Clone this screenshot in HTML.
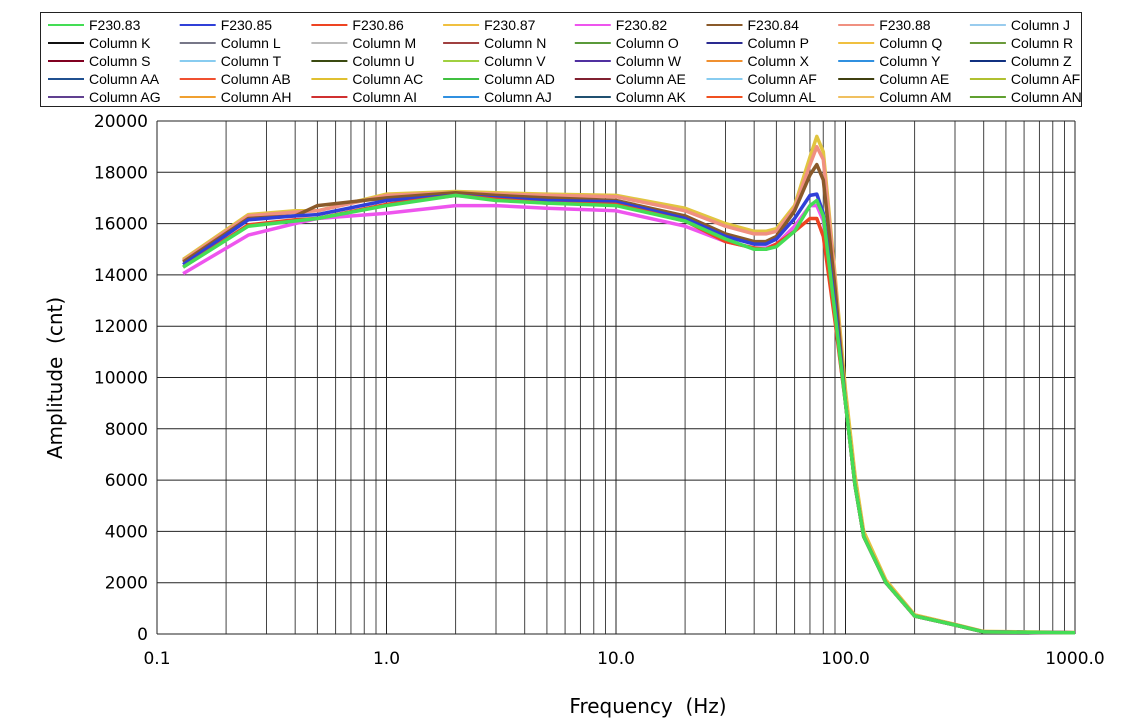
<!DOCTYPE html>
<html><head><meta charset="utf-8"><style>
body{margin:0;background:#fff;}
svg{display:block;font-family:"Liberation Sans",Verdana,sans-serif;}
.v{font-family:"DejaVu Sans",Verdana,sans-serif;}
</style></head><body>
<svg id="s" width="1127" height="726" xmlns="http://www.w3.org/2000/svg"></svg>
<script>
const s=document.getElementById('s');
let h='';
const X=f=>157+229.5*Math.log10(f/0.1), Y=v=>634-v*0.02565;
for(let d=0.1;d<1000;d*=10){for(let k=1;k<10;k++){const x=X(d*k);h+=`<line x1="${x}" y1="121" x2="${x}" y2="634" stroke="${k==1?'#222':'#444'}" stroke-width="1"/>`;}}
h+=`<line x1="${X(1000)}" y1="121" x2="${X(1000)}" y2="634" stroke="#222"/>`;
for(let v=0;v<=20000;v+=2000){const y=Y(v);h+=`<line x1="157" y1="${y}" x2="1075" y2="${y}" stroke="#222"/>`;
h+=`<text class="v" x="148" y="${y+6}" font-size="17" text-anchor="end">${v}</text>`;}
[[0.1,'0.1'],[1,'1.0'],[10,'10.0'],[100,'100.0'],[1000,'1000.0']].forEach(([f,t])=>h+=`<text class="v" x="${X(f)}" y="664" font-size="17" text-anchor="middle">${t}</text>`);
h+=`<text class="v" x="648" y="713" font-size="20" text-anchor="middle" xml:space="preserve">Frequency  (Hz)</text>`;
h+=`<text class="v" transform="translate(62,378) rotate(-90)" font-size="20" text-anchor="middle" xml:space="preserve">Amplitude  (cnt)</text>`;
const F=[0.13,0.25,0.4,0.5,1,2,3,5,10,20,30,40,45,50,60,70,75,80,90,100,110,120,150,200,300,400,1000];
const tail=[9000,5800,3800,2000,700,350,80,50];
const S=[
['#e1c540',[14600,16350,16500,16500,17150,17250,17200,17150,17100,16600,16000,15700,15700,15800,16700,18600,19400,18800,14000,9500,6200,4000,2100,750,380,100,60]],
['#f09080',[14550,16300,16450,16500,17100,17200,17150,17100,17050,16500,15900,15600,15600,15700,16600,18300,19000,18500,13800,...tail]],
['#8a5a2a',[14500,16200,16300,16700,17000,17200,17100,17000,16900,16300,15600,15300,15300,15500,16500,17900,18300,17700,13500,...tail]],
['#ee55ee',[14050,15550,16000,16200,16400,16700,16700,16600,16500,15900,15300,15050,15050,15200,15900,16700,16700,16100,12300,...tail]],
['#3040d8',[14400,16150,16300,16350,16900,17100,17000,16900,16850,16200,15500,15200,15200,15400,16200,17100,17150,16400,12800,...tail]],
['#ee4422',[14300,15950,16150,16200,16750,17100,16950,16800,16750,16100,15300,15050,15000,15200,15700,16200,16200,15500,12200,...tail]],
['#44dd55',[14300,15900,16100,16200,16700,17100,16900,16800,16700,16100,15400,15000,15000,15100,15700,16700,16900,16300,12500,...tail]],
];
S.forEach(([c,d])=>{h+=`<polyline fill="none" stroke="${c}" stroke-width="3.5" stroke-linejoin="round" points="${d.map((v,i)=>X(F[i]).toFixed(1)+','+Y(v).toFixed(1)).join(' ')}"/>`;});
h+=`<line x1="157" y1="121" x2="157" y2="634" stroke="#222"/>`;
h+=`<rect x="40.5" y="12.5" width="1041" height="94" fill="#fff" stroke="#222"/>`;
const L=[['F230.83','#44dd55'],['F230.85','#3040d8'],['F230.86','#ee4422'],['F230.87','#f0c040'],['F230.82','#ee55ee'],['F230.84','#8a5a2a'],['F230.88','#f09080'],['Column J','#99ccee'],
['Column K','#111'],['Column L','#778'],['Column M','#bbb'],['Column N','#a04040'],['Column O','#5a9a3a'],['Column P','#2a2a90'],['Column Q','#f0c040'],['Column R','#6a9a3a'],
['Column S','#800020'],['Column T','#88ccf0'],['Column U','#3a4a10'],['Column V','#a0d040'],['Column W','#5030a0'],['Column X','#f09030'],['Column Y','#3090e0'],['Column Z','#103080'],
['Column AA','#205090'],['Column AB','#f05030'],['Column AC','#e0c030'],['Column AD','#40c040'],['Column AE','#802030'],['Column AF','#88ccf0'],['Column AE','#404010'],['Column AF','#b0c030'],
['Column AG','#604090'],['Column AH','#f0a030'],['Column AI','#d03030'],['Column AJ','#3090e0'],['Column AK','#205070'],['Column AL','#f05020'],['Column AM','#f0c060'],['Column AN','#60a030']];
L.forEach(([t,c],i)=>{const col=i%8,row=Math.floor(i/8);const x=48+col*131.7,y=25+row*18;
h+=`<line x1="${x}" y1="${y}" x2="${x+36}" y2="${y}" stroke="${c}" stroke-width="2"/><text x="${x+41}" y="${y+5}" font-size="14">${t}</text>`;});
s.innerHTML=h;
</script>
</body></html>
